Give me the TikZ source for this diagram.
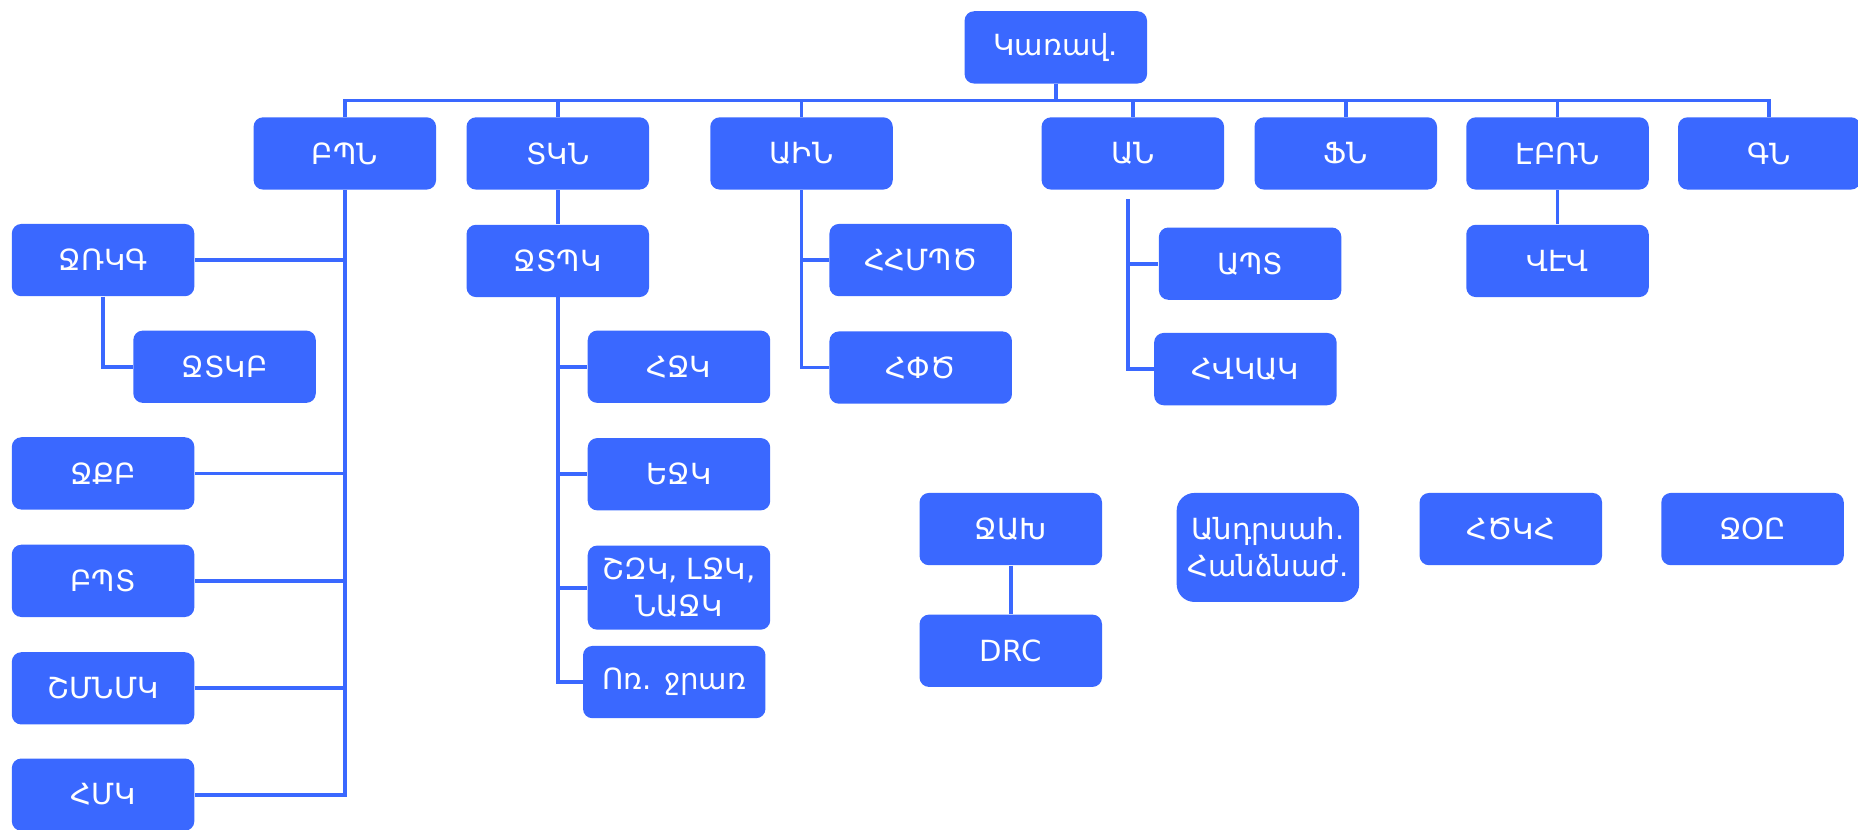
\documentclass[tikz,border=0pt]{standalone}
\usepackage{fontspec}
\setmainfont{DejaVu Sans}
\usetikzlibrary{positioning}
\definecolor{orgblue}{HTML}{3A68FF}

\begin{document}
\begin{tikzpicture}[x=0.2mm, y=-0.2mm, node distance=5.8mm,
    unit/.style={fill=orgblue, text=white, rounded corners=1.6mm, minimum width=30.8mm, minimum height=12.2mm, inner sep=0.6mm, align=center, font=\fontsize{14}{18}\selectfont},
    link/.style={draw=orgblue, line width=1.8pt}]
    \useasboundingbox (0,0) rectangle (1568,700);

    % top level
    \node[unit] (gov) at (891,40) {Կառավ.};
    \node[unit] (bpn) at (291,129.5) {ԲՊՆ};
    \node[unit, right=5mm of bpn] (tkn) {ՏԿՆ};
    \node[unit, right=10.2mm of tkn] (ain) {ԱԻՆ};
    \node[unit] (an) at (956,129.5) {ԱՆ};
    \node[unit, right=5mm of an] (fn) {ՖՆ};
    \node[unit, right=4.8mm of fn] (ebrn) {ԷԲՌՆ};
    \node[unit, right=4.8mm of ebrn] (gn) {ԳՆ};

    % ԲՊՆ branch
    \node[unit] (jrkg) at (87,219.5) {ՋՌԿԳ};
    \node[unit] (jtkb) at (189.5,309.5) {ՋՏԿԲ};
    \node[unit] (jqb) at (87,399.5) {ՋՔԲ};
    \node[unit, below=of jqb] (bpt) {ԲՊՏ};
    \node[unit, below=of bpt] (shmnmk) {ՇՄՆՄԿ};
    \node[unit, below=5.6mm of shmnmk] (hmk) {ՀՄԿ};

    % ՏԿՆ branch
    \node[unit, below=of tkn] (jtpk) {ՋՏՊԿ};
    \node[unit] (hjk) at (573,309.5) {ՀՋԿ};
    \node[unit, below=of hjk] (ejk) {ԵՋԿ};
    \node[unit, below=of ejk, minimum height=14.2mm] (wsc) {ՇԶԿ, ԼՋԿ,\\ՆԱՋԿ};
    \node[unit, below=2.6mm of wsc, xshift=-0.8mm] (irr) {Ոռ. ջրառ};

    % ԱԻՆ branch
    \node[unit] (hhmpc) at (777,219.5) {ՀՀՄՊԾ};
    \node[unit, below=of hhmpc] (hpc) {ՀՓԾ};

    % ԱՆ branch
    \node[unit] (apt) at (1055,222.5) {ԱՊՏ};
    \node[unit] (hvkak) at (1051,311.5) {ՀՎԿԱԿ};

    \node[unit, below=of ebrn] (vev) {ՎԷՎ};

    % bottom row
    \node[unit] (jax) at (853,446.5) {ՋԱԽ};
    \node[unit, below=8.2mm of jax] (drc) {DRC};
    \node[unit, minimum height=18.4mm, rounded corners=3mm] (cross) at (1070,462) {Անդրսահ.\\Հանձնաժ.};
    \node[unit] (hckh) at (1275,446.5) {ՀԾԿՀ};
    \node[unit] (joe) at (1479,446.5) {ՋՕԸ};

    % links
    \foreach \n in {bpn,tkn,ain,an,fn,ebrn,gn}
        \draw[link] (gov.south) -- ++(0,14) -| (\n.north);
    \foreach \n in {jrkg,jqb,bpt,shmnmk,hmk}
        \draw[link] (bpn.south) |- (\n.east);
    \draw[link] (jrkg.south) |- (jtkb.west);
    \draw[link] (tkn) -- (jtpk);
    \foreach \n in {hjk,ejk,wsc,irr}
        \draw[link] (jtpk.south) |- (\n.west);
    \foreach \n in {hhmpc,hpc}
        \draw[link] (ain.south) |- (\n.west);
    \foreach \n in {apt,hvkak}
        \draw[link] ([shift={(-4,8)}]an.south) |- (\n.west);
    \draw[link] (ebrn) -- (vev);
    \draw[link] (jax) -- (drc);
\end{tikzpicture}
\end{document}
